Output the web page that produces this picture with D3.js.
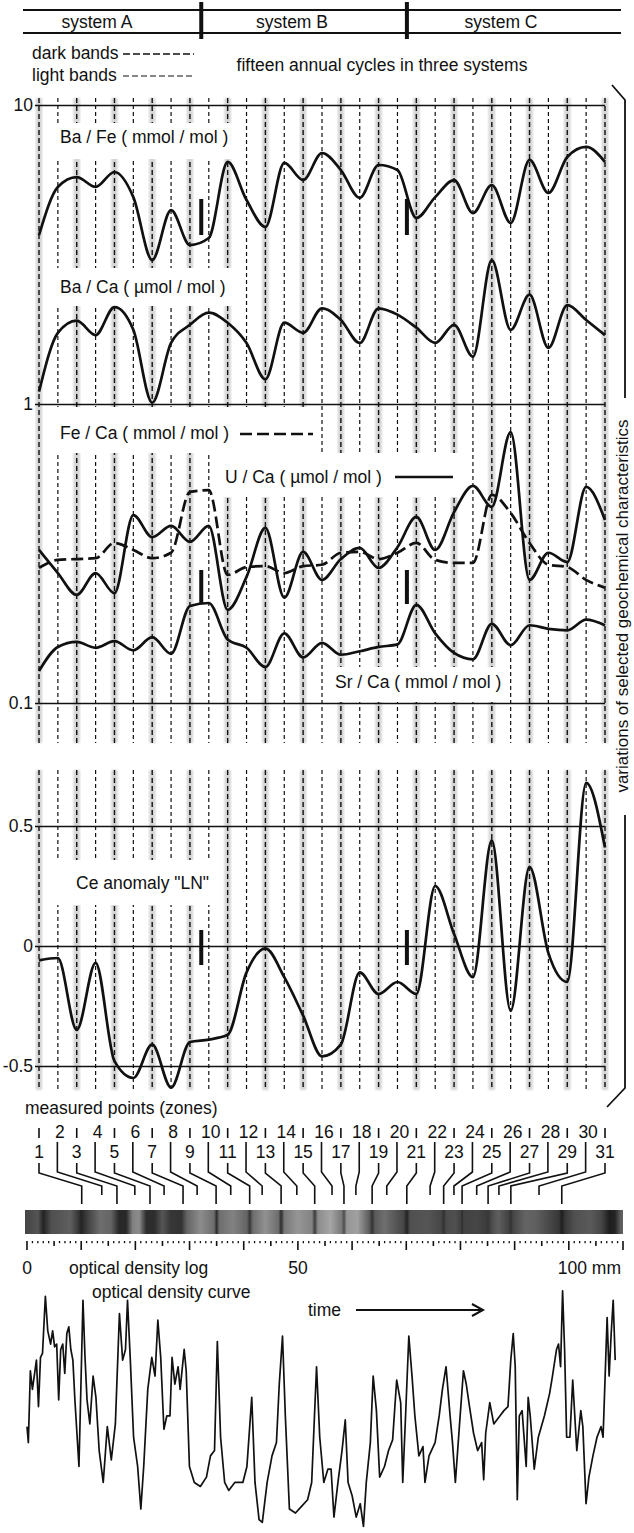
<!DOCTYPE html>
<html><head><meta charset="utf-8">
<script src="https://cdn.jsdelivr.net/npm/d3@7"></script>
<style>
body{margin:0;background:#fff;}
svg{display:block;font-family:"Liberation Sans",Arial,sans-serif;}
</style></head><body>
<svg id="c" width="634" height="1533"></svg>
<script>
// ---------------- DATA ----------------
const zones = d3.range(1, 32);
const systems = ["system A", "system B", "system C"];
const systemBounds = [9.6, 20.5]; // in zone units
const baFe = [3.67,5.32,5.74,5.32,5.97,4.92,3.03,4.45,3.40,3.59,6.45,4.81,3.91,6.40,5.61,6.91,6.06,4.89,6.30,6.06,4.19,4.92,5.61,4.35,5.40,4.03,6.55,5.08,6.70,7.24,6.45];
const baCa = [1.10,1.73,1.90,1.70,2.11,1.77,1.01,1.60,1.84,2.02,1.87,1.60,1.21,1.87,1.73,2.09,1.91,1.60,2.09,1.99,1.80,1.60,1.84,1.44,3.03,1.77,2.32,1.54,2.14,1.91,1.70];
const feCa = [0.283,0.301,0.303,0.305,0.343,0.325,0.305,0.318,0.508,0.515,0.268,0.285,0.287,0.272,0.287,0.290,0.318,0.320,0.303,0.318,0.343,0.301,0.294,0.294,0.497,0.432,0.343,0.290,0.285,0.258,0.243];
const uCa = [0.325,0.272,0.230,0.272,0.233,0.425,0.359,0.391,0.346,0.391,0.205,0.264,0.385,0.225,0.320,0.258,0.303,0.330,0.283,0.332,0.419,0.325,0.435,0.532,0.453,0.805,0.258,0.318,0.296,0.528,0.409];
const srCa = [0.128,0.154,0.160,0.153,0.161,0.150,0.166,0.146,0.211,0.216,0.163,0.153,0.132,0.171,0.142,0.159,0.145,0.149,0.154,0.157,0.213,0.171,0.147,0.140,0.184,0.156,0.182,0.177,0.175,0.190,0.182];
const ceLN = [-0.06,-0.05,-0.35,-0.07,-0.48,-0.55,-0.41,-0.59,-0.40,-0.39,-0.37,-0.11,-0.01,-0.13,-0.29,-0.46,-0.41,-0.11,-0.20,-0.15,-0.20,0.25,0.05,-0.13,0.44,-0.27,0.33,-0.03,-0.15,0.68,0.41];
const logTicks = [0.1, 1, 10];
const ceTicks = [-0.5, 0, 0.5];
// position of each measured zone on the optical density log (mm)
const zoneMM = [10.1,13.8,16.6,19.9,22.7,25.3,28.8,31.4,34.9,37.6,41.1,43.4,46.9,49.8,53.1,56.3,58.5,60.7,63.7,66.4,70.1,74.4,76.9,78.8,80.3,83.0,85.1,87.1,89.3,94.5,98.7];
const rulerLabels = [0, 50, 100];
const densMM   = [0,2,3,4.5,6,8,9.5,10,11,13.5,15.5,17,18.3,19.5,20.7,22,23.5,25,26.5,28.5,29.5,32,34.5,35,35.5,38,40.6,41.1,41.7,44,46.4,46.9,47.5,50,52.6,53.1,53.7,56,58.1,58.5,59,61,63.2,63.7,64.2,66,69.5,70.1,70.7,74,76.4,76.9,77.4,79,80,80.3,80.6,83,84.7,85.1,86,87,88.9,89.3,89.7,92,94,98.2,98.7,99.3,101,104,106,107.5,108.5,109.5,110.3];
const densGray = [70,85,35,80,85,95,55,35,60,110,100,40,40,130,140,45,45,85,55,50,100,140,110,45,110,130,100,55,110,145,110,45,120,150,130,60,140,165,120,75,150,160,90,50,90,110,70,35,80,85,70,50,75,80,65,45,65,70,60,55,80,95,65,50,70,100,95,55,30,55,80,90,70,30,35,90,100];
const odMM  = [0.00,0.25,0.62,1.00,1.74,2.12,2.49,2.86,3.39,3.83,4.36,4.73,5.10,5.48,5.85,6.22,6.60,6.97,7.35,7.72,8.09,8.47,8.84,9.59,9.96,10.33,10.71,11.08,11.60,12.20,12.72,13.32,14.07,14.82,15.56,16.31,17.06,17.65,18.18,18.55,19.07,19.67,20.42,21.01,21.54,22.29,23.03,23.63,24.15,24.68,25.27,25.80,26.39,26.77,27.29,27.89,28.26,29.01,29.38,29.98,30.88,32.00,33.12,33.86,34.61,35.13,35.73,36.48,37.23,38.35,39.84,40.59,41.48,42.08,42.83,43.43,44.32,45.22,46.04,46.56,47.16,47.68,48.43,49.55,50.67,51.79,52.54,53.44,54.03,54.78,55.53,56.12,56.65,57.39,58.14,58.74,59.26,60.01,60.76,61.50,62.10,62.62,63.37,63.89,64.49,65.09,65.98,66.73,67.48,68.23,68.97,69.35,69.87,70.47,71.06,71.59,72.33,73.08,73.45,74.20,75.32,76.07,76.67,77.34,78.09,78.53,79.06,79.80,80.55,81.07,81.67,82.42,83.17,83.91,84.29,84.66,85.41,86.15,87.27,88.02,88.77,89.29,89.74,90.11,90.49,90.86,91.38,92.13,92.50,92.88,93.62,94.37,95.49,96.46,96.98,97.73,98.10,98.48,98.85,99.22,99.60,100.20,100.72,101.47,102.21,102.59,103.18,103.71,104.45,105.20,105.95,106.32,107.07,107.44,107.82,108.19,108.56];
const odVal = [40,34,61,54,65,47.5,66,67.5,89,76,71,76,70,71,50,69,71,60,75,77.5,69,65,50,25,56,87.5,66,50,41,59,51,31,19,40,27.5,41,82.5,65,69,87.5,65,36,25,9,25,54,66,59,80,66,39,44,44,66,56,62.5,54,69,61,25,19,17.5,21,29,31,72,36,19,16,19,19,25,51,19,5,4,19,29,34,56,74,44,9,7.5,10,12.5,19,62.5,36,19,24,24,6,19,31,42.5,19,14,6,11,2.5,19,34,59,46,21,25,31,35,57.5,49,19,44,74,59,44,29,32.5,19,29,34,44,54,62.5,44,34,19,40,61,56,47.5,37.5,31,34,20,37.5,49,41,44,46,47.5,65,75,62.5,12.5,44,46,25,51,44,24,36,44,52.5,59,69,71,62.5,91,69,36,36,57.5,31,46,40,11,21,29,36,40,36,81,59,75,87.5,65];

// ---------------- SCALES ----------------
const svg = d3.select("#c");
const FS = 17.5;
const zoneX = d3.scaleLinear().domain([1, 31]).range([39, 605]);
const logY = d3.scaleLog().domain([0.1, 10]).range([703, 105]);
const ceY = d3.scaleLinear().domain([-0.5, 0.5]).range([1066, 826]);
const mmX = d3.scaleLinear().domain([0, 110]).range([27, 623]);
const odY = d3.scaleLinear().domain([0, 100]).range([1533, 1267]);

svg.append("rect").attr("width", 634).attr("height", 1533).attr("fill", "#fff");
const defs = svg.append("defs");
defs.append("filter").attr("id", "blur").append("feGaussianBlur").attr("stdDeviation", 1.2);

// ---------------- HEADER ----------------
const hdr = svg.append("g");
[10, 33].forEach(y => hdr.append("line").attr("x1", 23).attr("x2", 621).attr("y1", y).attr("y2", y)
  .attr("stroke", "#111").attr("stroke-width", 2));
systemBounds.forEach(b => hdr.append("rect").attr("x", zoneX(b) - 2).attr("y", 2).attr("width", 4).attr("height", 37).attr("fill", "#111"));
const sysX = [97, 292, 501];
systems.forEach((s, i) => hdr.append("text").attr("x", sysX[i]).attr("y", 28).attr("text-anchor", "middle")
  .attr("font-size", FS).attr("fill", "#111").text(s));

hdr.append("text").attr("x", 32).attr("y", 59).attr("font-size", FS).attr("fill", "#111").text("dark bands");
hdr.append("text").attr("x", 32).attr("y", 81).attr("font-size", FS).attr("fill", "#111").text("light bands");
hdr.append("line").attr("x1", 123).attr("x2", 194).attr("y1", 54).attr("y2", 54).attr("stroke", "#111").attr("stroke-width", 1.6).attr("stroke-dasharray", "7,3");
hdr.append("line").attr("x1", 123).attr("x2", 194).attr("y1", 76).attr("y2", 76).attr("stroke", "#111").attr("stroke-width", 1.2).attr("stroke-dasharray", "6,3");
hdr.append("text").attr("x", 382).attr("y", 71).attr("text-anchor", "middle").attr("font-size", FS).attr("fill", "#111")
  .text("fifteen annual cycles in three systems");

// ---------------- BAND LINES ----------------
const segs = [[98, 743], [770, 1090]];
const bands = svg.append("g");
zones.forEach(z => {
  const x = zoneX(z), dark = z % 2 === 1;
  segs.forEach(([a, b]) => {
    if (dark) bands.append("rect").attr("x", x - 3.2).attr("y", a).attr("width", 6.4).attr("height", b - a)
      .attr("fill", "#d4d4d4").attr("filter", "url(#blur)");
  });
});
zones.forEach(z => {
  const x = zoneX(z), dark = z % 2 === 1;
  segs.forEach(([a, b]) => {
    bands.append("line").attr("x1", x).attr("x2", x).attr("y1", a).attr("y2", b)
      .attr("stroke", "#111").attr("stroke-width", dark ? 1.4 : 1.2).attr("stroke-dasharray", dark ? "5,3" : "4,3");
  });
});

// white label boxes (labels interrupt the band lines)
const boxes = [[48, 123, 188, 36], [48, 268, 188, 38], [48, 407, 268, 46], [220, 453, 242, 44], [330, 667, 178, 35], [48, 860, 174, 45]];
boxes.forEach(([x, y, w, h]) => svg.append("rect").attr("x", x).attr("y", y).attr("width", w).attr("height", h).attr("fill", "#fff"));

// ---------------- AXES / GRID ----------------
const gLog = svg.append("g").attr("transform", "translate(35,0)")
  .call(d3.axisLeft(logY).tickValues(logTicks).tickSize(-570).tickPadding(2).tickFormat(d => d >= 1 ? d3.format("d")(d) : String(d)));
const gCe = svg.append("g").attr("transform", "translate(35,0)")
  .call(d3.axisLeft(ceY).tickValues(ceTicks).tickSize(-570).tickPadding(2).tickFormat(d => d === 0 ? "0" : String(d)));
[gLog, gCe].forEach(g => {
  g.select(".domain").remove();
  g.selectAll(".tick line").attr("stroke", "#111").attr("stroke-width", 1.4);
  g.selectAll(".tick text").attr("font-size", FS).attr("fill", "#111").attr("font-family", "Liberation Sans, Arial, sans-serif");
});

// ---------------- CURVES ----------------
const lineLog = d3.line().x((d, i) => zoneX(zones[i])).y(d => logY(d)).curve(d3.curveMonotoneX);
const lineCe = d3.line().x((d, i) => zoneX(zones[i])).y(d => ceY(d)).curve(d3.curveMonotoneX);
const curves = svg.append("g").attr("fill", "none").attr("stroke", "#111").attr("stroke-width", 2.7).attr("stroke-linejoin", "round");
[baFe, baCa, uCa, srCa].forEach(s => curves.append("path").attr("d", lineLog(s)));
curves.append("path").attr("d", lineLog(feCa)).attr("stroke-dasharray", "12,5");
curves.append("path").attr("d", lineCe(ceLN));

// system boundary markers
const markY = [[199, 235], [570, 604], [930, 965]];
systemBounds.forEach(b => markY.forEach(([a, c]) =>
  svg.append("rect").attr("x", zoneX(b) - 2).attr("y", a).attr("width", 4).attr("height", c - a).attr("fill", "#111")));

// ---------------- SERIES LABELS ----------------
const lab = (x, y, t) => svg.append("text").attr("x", x).attr("y", y).attr("font-size", FS).attr("fill", "#111").text(t);
lab(60, 143, "Ba / Fe ( mmol / mol )");
lab(60, 293, "Ba / Ca ( \u00b5mol / mol )");
lab(60, 439, "Fe / Ca ( mmol / mol )");
svg.append("line").attr("x1", 240).attr("x2", 313).attr("y1", 434).attr("y2", 434).attr("stroke", "#111").attr("stroke-width", 2.7).attr("stroke-dasharray", "12,5");
lab(225, 483, "U / Ca ( \u00b5mol / mol )");
svg.append("line").attr("x1", 395).attr("x2", 453).attr("y1", 477).attr("y2", 477).attr("stroke", "#111").attr("stroke-width", 2.5);
lab(335, 688, "Sr / Ca ( mmol / mol )");
lab(76, 889, "Ce anomaly \"LN\"");

// right bracket and title
const br = svg.append("g").attr("fill", "none").attr("stroke", "#111").attr("stroke-width", 1.8);
br.append("path").attr("d", "M612,85 L625,100 V398");
br.append("path").attr("d", "M625,815 V1088 L607,1107");
svg.append("text").attr("transform", "translate(628,606) rotate(-90)").attr("text-anchor", "middle")
  .attr("font-size", 17).attr("fill", "#111").text("variations of selected geochemical characteristics");

// ---------------- MEASURED POINTS ----------------
lab(25, 1114, "measured points (zones)");
const zl = svg.append("g");
zones.forEach((z, i) => {
  const x = zoneX(z), xt = mmX(zoneMM[i]);
  if (z % 2 === 0) {
    zl.append("text").attr("x", x + 2).attr("y", 1138).attr("text-anchor", "middle").attr("font-size", FS).attr("fill", "#111").text(z);
    zl.append("path").attr("d", `M${x - 0.5},1142 V1172 L${xt},1186 V1195`).attr("fill", "none").attr("stroke", "#111").attr("stroke-width", 1.6);
  } else {
    zl.append("line").attr("x1", x).attr("x2", x).attr("y1", 1128).attr("y2", 1138).attr("stroke", "#111").attr("stroke-width", 1.6);
    zl.append("text").attr("x", x).attr("y", 1158).attr("text-anchor", "middle").attr("font-size", FS).attr("fill", "#111").text(z);
    zl.append("path").attr("d", `M${x},1163 V1173 L${xt},1186 V1204`).attr("fill", "none").attr("stroke", "#111").attr("stroke-width", 1.6);
  }
});

// ---------------- OPTICAL DENSITY LOG ----------------
const grad = defs.append("linearGradient").attr("id", "dens").attr("gradientUnits", "userSpaceOnUse")
  .attr("x1", mmX(0)).attr("x2", mmX(110)).attr("y1", 0).attr("y2", 0);
densMM.forEach((m, i) => grad.append("stop").attr("offset", Math.max(0, Math.min(1, m / 110)))
  .attr("stop-color", d3.rgb(densGray[i], densGray[i], densGray[i])));
svg.append("rect").attr("x", 25).attr("y", 1210).attr("width", 598).attr("height", 24).attr("fill", "url(#dens)");

// ruler
const ruler = svg.append("g").attr("stroke", "#111");
d3.range(0, 111).forEach(m => {
  const len = m % 10 === 0 ? 9 : (m % 5 === 0 ? 5 : 2.2);
  ruler.append("line").attr("x1", mmX(m)).attr("x2", mmX(m)).attr("y1", 1241).attr("y2", 1241 + len)
    .attr("stroke-width", m % 5 === 0 ? 1.6 : 1.3);
});
rulerLabels.forEach(m => {
  svg.append("text").attr("x", m === 100 ? mmX(m) - 11 : mmX(m)).attr("y", 1274)
    .attr("text-anchor", m === 100 ? "start" : "middle").attr("font-size", FS).attr("fill", "#111")
    .text(m === 100 ? "100 mm" : m);
});
lab(69, 1274, "optical density log");
lab(92, 1298, "optical density curve");

// time arrow
lab(308, 1316, "time");
svg.append("path").attr("d", "M356,1310 H482 M472,1304 L483,1310 L472,1316").attr("fill", "none").attr("stroke", "#111").attr("stroke-width", 2);

// optical density curve
const odLine = d3.line().x((d, i) => mmX(odMM[i])).y(d => odY(d)).curve(d3.curveLinear);
svg.append("path").attr("d", odLine(odVal)).attr("fill", "none").attr("stroke", "#111").attr("stroke-width", 1.7).attr("stroke-linejoin", "round");
</script>
</body></html>
